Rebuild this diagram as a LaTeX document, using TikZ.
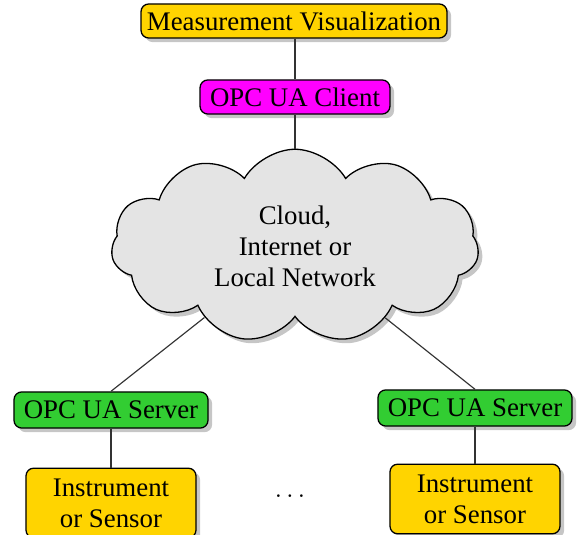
\documentclass[tikz,border=0pt]{standalone}
\usepackage{fontspec}
\setmainfont{Liberation Serif}
\usetikzlibrary{shapes.symbols,shadows}
\definecolor{boxyellow}{RGB}{255,212,0}
\definecolor{boxgreen}{RGB}{50,205,50}
\definecolor{boxmagenta}{RGB}{255,0,255}
\definecolor{cloudgray}{RGB}{228,228,228}
\tikzset{
  unit/.style={draw=black, line width=0.5pt, rounded corners=3pt,
    drop shadow={shadow xshift=0.35ex, shadow yshift=-0.35ex, opacity=0.45},
    inner sep=2pt, align=center, font=\fontsize{10.4}{12}\selectfont},
  display/.style={unit, fill=boxyellow, minimum width=118.6pt, minimum height=13.2pt},
  client/.style={unit, fill=boxmagenta, minimum width=73.6pt, minimum height=13.2pt},
  server/.style={unit, fill=boxgreen, minimum width=75.2pt, minimum height=14pt},
  device/.style={unit, fill=boxyellow, minimum width=65.9pt, minimum height=27pt},
  net/.style={cloud, cloud puffs=11, cloud puff arc=120, aspect=1.9, draw=black,
    line width=0.5pt, fill=cloudgray,
    drop shadow={shadow xshift=0.35ex, shadow yshift=-0.35ex, opacity=0.45},
    align=center, minimum width=142.5pt, minimum height=75pt, inner sep=0pt,
    font=\fontsize{10.4}{12}\selectfont},
  link/.style={draw=black!80, line width=0.45pt}
}
\begin{document}
\begin{tikzpicture}[x=0.3876pt, y=-0.3876pt]
  \useasboundingbox (0,0) rectangle (580,535);
  \node[display] (mv) at (294,21) {Measurement Visualization};
  \node[client] (cl) at (295,97) {OPC UA Client};
  \node[net] (nw) at (295,246) {Cloud,\\Internet or\\Local Network};
  \node[server] (sl) at (111,410) {OPC UA Server};
  \node[server] (sr) at (475,408) {OPC UA Server};
  \node[device] (il) at (111,503) {Instrument\\or Sensor};
  \node[device] (ir) at (475,499) {Instrument\\or Sensor};
  \node (dots) at (290,496) {$\dots$};
  \path[link] (mv.south -| cl) -- (cl.north);
  \path[link] (cl.south) -- (nw.north -| cl);
  \path[link] (nw) -- (sl.north);
  \path[link] (nw) -- (sr.north);
  \path[link] (sl) -- (il);
  \path[link] (sr) -- (ir);
\end{tikzpicture}
\end{document}
